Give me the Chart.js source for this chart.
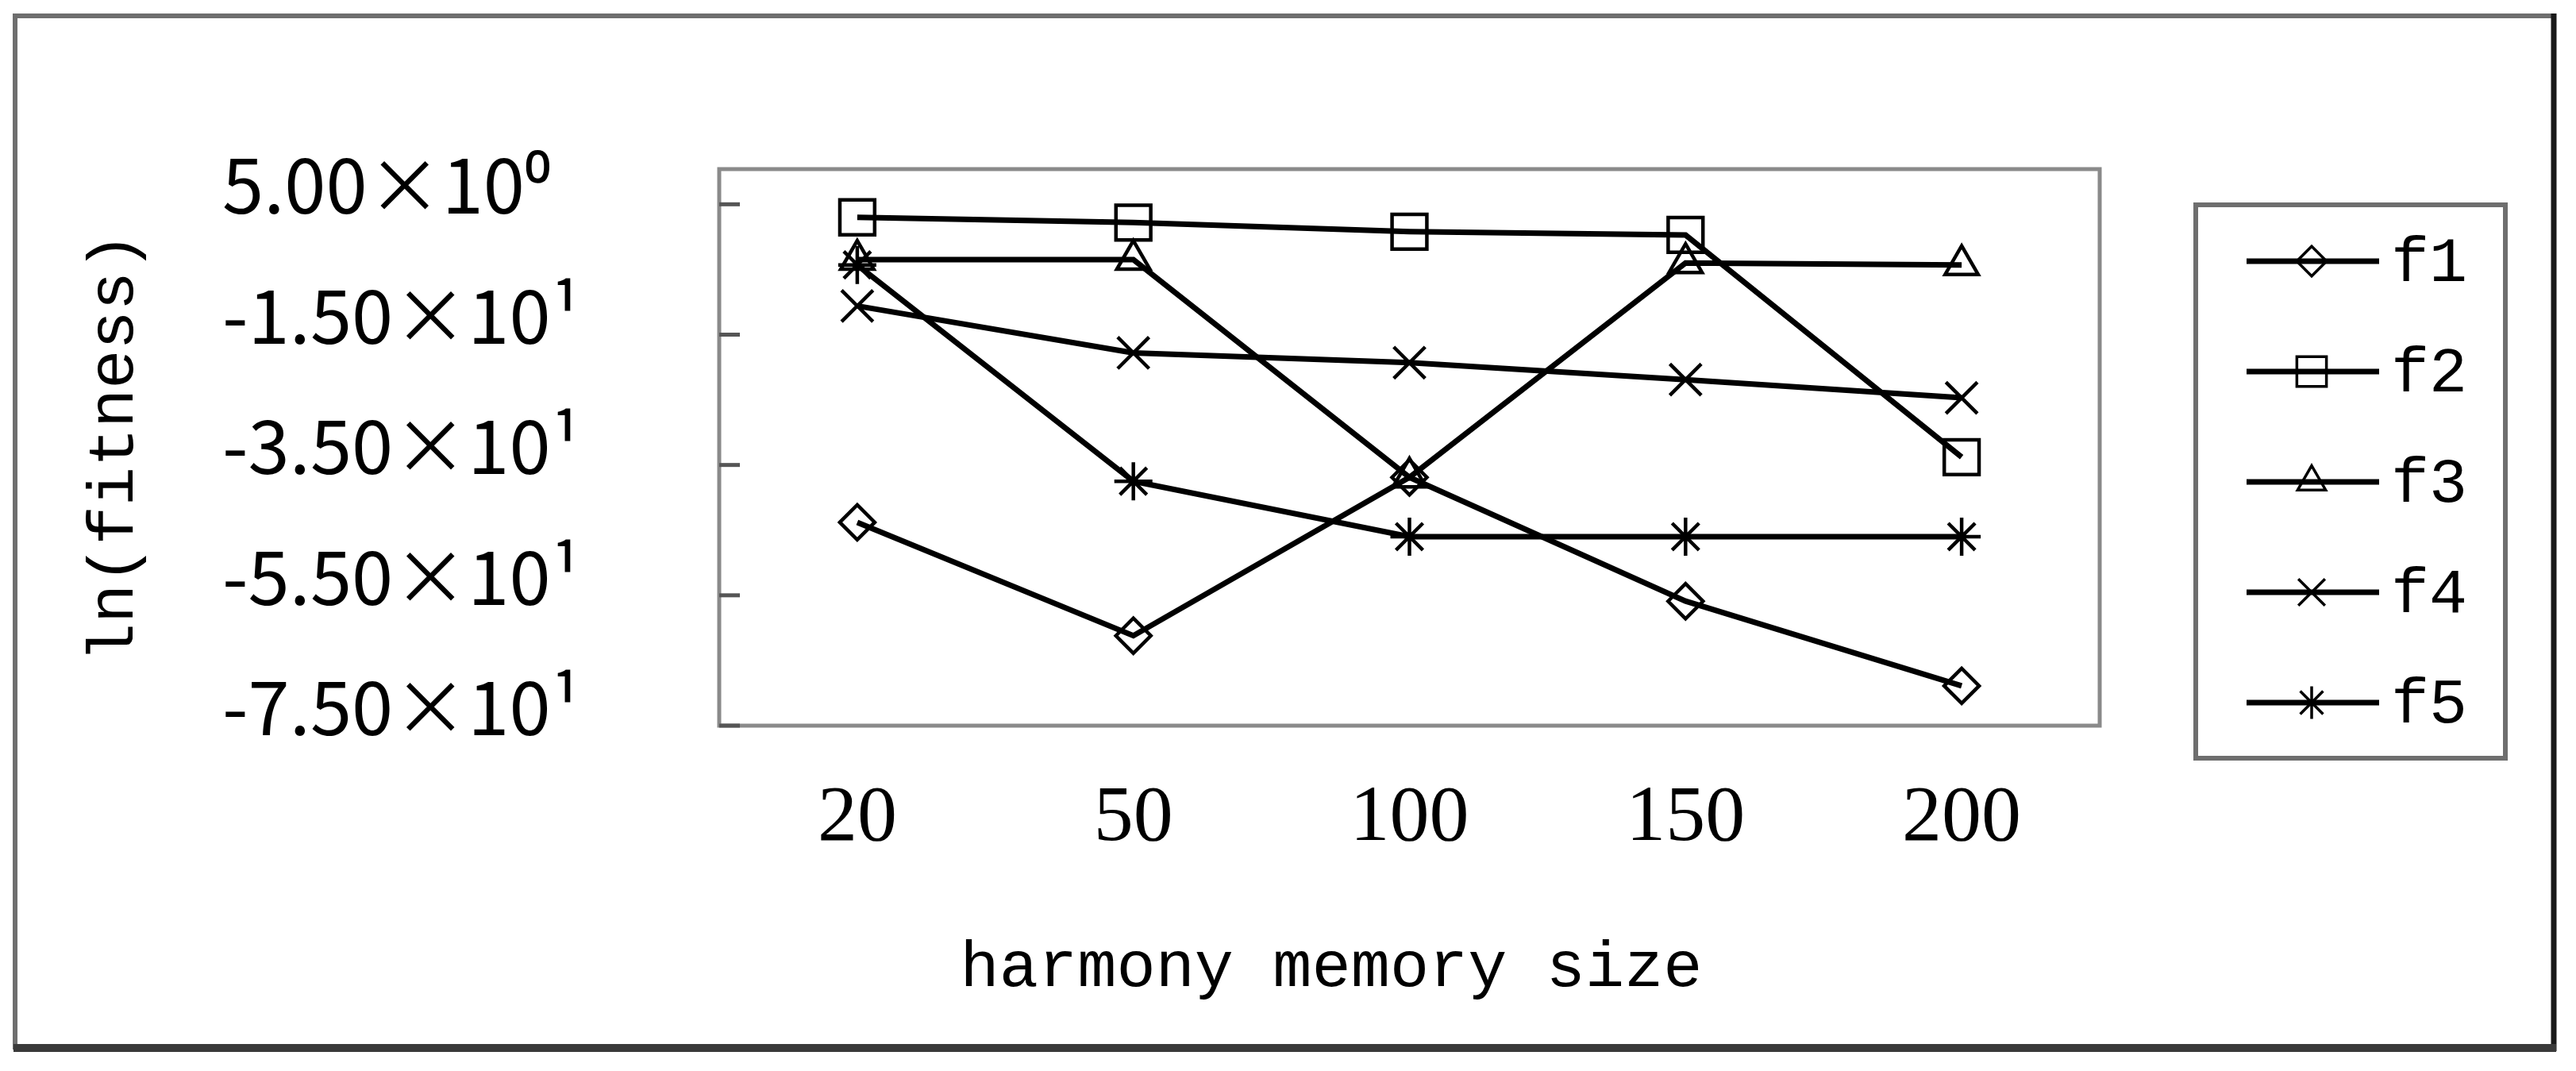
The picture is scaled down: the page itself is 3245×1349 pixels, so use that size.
<!DOCTYPE html>
<html>
<head>
<meta charset="utf-8">
<script src="https://cdn.jsdelivr.net/npm/chart.js"></script>
<style>
  html, body { margin: 0; padding: 0; background: #ffffff; }
  #wrap { width: 3245px; height: 1349px; position: relative; }
</style>
</head>
<body>
<div id="wrap"><canvas id="c" width="3245" height="1349"></canvas></div>
<script>
// ---- data ----
const categories = ['20', '50', '100', '150', '200'];
const seriesNames = ['f1', 'f2', 'f3', 'f4', 'f5'];
const f1 = [-43.8, -61.2, -36.9, -55.9, -68.9];
const f2 = [3.0, 2.2, 0.8, 0.3, -33.8];
const f3 = [-3.5, -3.5, -36.9, -4.0, -4.3];
const f4 = [-10.6, -17.8, -19.3, -21.9, -24.7];
const f5 = [-4.3, -37.5, -46.0, -46.0, -46.0];
const yTickValues = [5, -15, -35, -55, -75];
const yTickLabels = ['5.00×10⁰', '-1.50×10¹', '-3.50×10¹', '-5.50×10¹', '-7.50×10¹'];
const yMin = -75;
const yMax = 10.4;
const xTitle = 'harmony memory size    ';
const yTitle = 'ln(fitness)';

// ---- styles ----
const seriesValues = [f1, f2, f3, f4, f5];
const pointStyles = ['rectRot', 'rect', 'triangle', 'crossRot', 'star'];
const pointRadii = [22, 31, 24, 28, 24];

const datasets = seriesNames.map((name, i) => ({
  label: name,
  data: seriesValues[i],
  borderColor: '#000000',
  borderWidth: 7,
  tension: 0,
  fill: false,
  pointStyle: pointStyles[i],
  pointRadius: pointRadii[i],
  pointBorderWidth: 4.5,
  pointBorderColor: '#000000',
  pointBackgroundColor: 'rgba(0,0,0,0)'
}));

const framePlugin = {
  id: 'framePlugin',
  beforeDraw(chart) {
    const ctx = chart.ctx;
    ctx.save();
    ctx.fillStyle = '#ffffff';
    ctx.fillRect(0, 0, chart.width, chart.height);
    ctx.lineCap = 'butt';
    ctx.strokeStyle = '#6e6e6e';
    ctx.lineWidth = 6;
    ctx.beginPath();
    ctx.moveTo(19, 1322); ctx.lineTo(19, 20); ctx.lineTo(3218, 20);
    ctx.stroke();
    ctx.strokeStyle = '#1a1a1a';
    ctx.lineWidth = 7;
    ctx.beginPath();
    ctx.moveTo(3217, 17); ctx.lineTo(3217, 1324);
    ctx.stroke();
    ctx.strokeStyle = '#3a3a3a';
    ctx.lineWidth = 10;
    ctx.beginPath();
    ctx.moveTo(17, 1320); ctx.lineTo(3220, 1320);
    ctx.stroke();
    ctx.restore();
  },
  beforeDatasetsDraw(chart) {
    const ctx = chart.ctx;
    const a = chart.chartArea;
    const ys = chart.scales.y;
    ctx.save();
    ctx.strokeStyle = '#8a8a8a';
    ctx.lineWidth = 5;
    ctx.strokeRect(a.left, a.top, a.right - a.left, a.bottom - a.top);
    ctx.strokeStyle = '#555555';
    ctx.lineWidth = 5;
    yTickValues.forEach(v => {
      const py = ys.getPixelForValue(v);
      ctx.beginPath();
      ctx.moveTo(a.left, py);
      ctx.lineTo(a.left + 26, py);
      ctx.stroke();
    });
    ctx.restore();
  },
  afterDraw(chart) {
    const ctx = chart.ctx;
    ctx.save();
    const bx = 2766, by = 258, bw = 390, bh = 697;
    ctx.strokeStyle = '#6e6e6e';
    ctx.lineWidth = 6;
    ctx.strokeRect(bx, by, bw, bh);
    chart.data.datasets.forEach((ds, i) => {
      const cy = 329 + i * 139;
      ctx.strokeStyle = '#000000';
      ctx.lineWidth = 7;
      ctx.beginPath();
      ctx.moveTo(2830, cy);
      ctx.lineTo(2997, cy);
      ctx.stroke();
      ctx.strokeStyle = '#000000';
      ctx.fillStyle = 'rgba(0,0,0,0)';
      ctx.lineWidth = 3.5;
      Chart.helpers.drawPoint(ctx, {
        pointStyle: ds.pointStyle,
        radius: ds.pointRadius * 0.85,
        borderWidth: 3.5,
        rotation: 0
      }, 2912, cy);
      ctx.fillStyle = '#000000';
      ctx.font = '80px "Liberation Mono"';
      ctx.textAlign = 'left';
      ctx.textBaseline = 'middle';
      ctx.fillText(ds.label, 3012, cy + 4);
    });
    ctx.restore();
  }
};

new Chart(document.getElementById('c'), {
  type: 'line',
  data: { labels: categories, datasets: datasets },
  options: {
    responsive: false,
    animation: false,
    devicePixelRatio: 1,
    layout: { padding: { left: 280, right: 600, top: 213, bottom: 0 } },
    plugins: {
      legend: { display: false },
      tooltip: { enabled: false }
    },
    scales: {
      x: {
        type: 'category',
        offset: true,
        grid: { display: false },
        border: { display: false },
        ticks: {
          color: '#000000',
          font: { family: '"Liberation Serif"', size: 100 },
          padding: 50
        },
        title: {
          display: true,
          text: xTitle,
          color: '#000000',
          font: { family: '"Liberation Mono"', size: 82 },
          padding: { top: 0, bottom: 80 }
        },
        afterFit(scale) { scale.height = 435; }
      },
      y: {
        min: yMin,
        max: yMax,
        grid: { display: false },
        border: { display: false },
        afterBuildTicks(scale) {
          scale.ticks = yTickValues.map(v => ({ value: v }));
        },
        ticks: {
          color: '#000000',
          font: { family: '"Noto Sans CJK SC"', size: 94 },
          crossAlign: 'far',
          padding: 20,
          labelOffset: -24,
          callback(value) {
            const k = yTickValues.indexOf(value);
            return k >= 0 ? yTickLabels[k] : '';
          }
        },
        title: {
          display: true,
          text: yTitle,
          color: '#000000',
          font: { family: '"Liberation Mono"', size: 82 },
          padding: { top: -184, bottom: 0 }
        },
        afterFit(scale) { scale.width = 626; }
      }
    }
  },
  plugins: [framePlugin]
});
</script>
</body>
</html>
